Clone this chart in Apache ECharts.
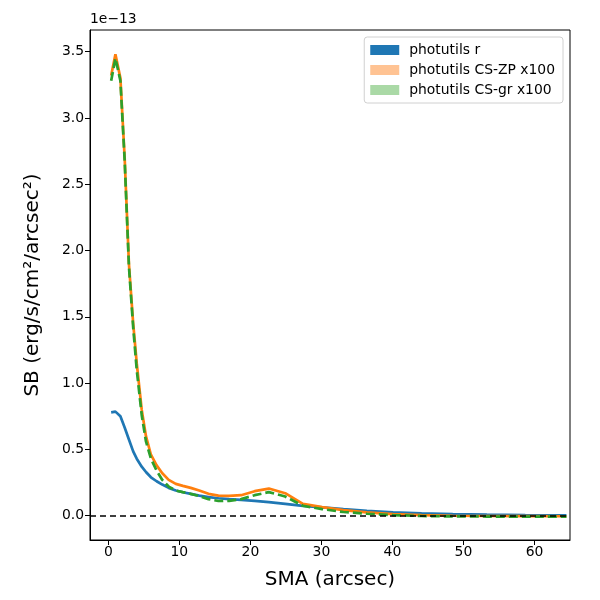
<!DOCTYPE html>
<html>
<head>
<meta charset="utf-8">
<script src="https://cdn.jsdelivr.net/npm/echarts@6/dist/echarts.min.js"></script>
<style>
  html, body { margin: 0; padding: 0; background: #fff; }
  #chart { width: 600px; height: 600px; }
</style>
</head>
<body>
<div id="chart"></div>
<script>
// semi-major axis (arcsec)
var sma = [0.4, 1.0, 1.7, 2.3, 2.9, 3.5, 4.0, 4.7, 5.3, 6.0, 6.8, 7.6, 8.5, 9.5, 10.5, 11.6, 12.8, 14.1, 15.5, 17.0,
           18.7, 20.6, 22.6, 24.9, 27.4, 30.1, 33.1, 36.4, 40.1, 44.1, 48.5, 53.3, 58.7, 64.5]

// surface brightness, units of 1e-13
var sbR = [0.78, 0.785, 0.75, 0.665, 0.575, 0.485, 0.43, 0.37, 0.33, 0.29, 0.26, 0.235, 0.21, 0.19, 0.177, 0.165, 0.152, 0.14, 0.132, 0.125,
           0.119, 0.112, 0.103, 0.09, 0.075, 0.063, 0.05, 0.037, 0.026, 0.018, 0.012, 0.008, 0.004, 0.002]
var sbZP = [3.32, 3.48, 3.30, 2.70, 1.90, 1.45, 1.15, 0.80, 0.60, 0.46, 0.38, 0.32, 0.27, 0.24, 0.225, 0.21, 0.19, 0.165, 0.152, 0.15,
            0.155, 0.185, 0.205, 0.17, 0.09, 0.065, 0.042, 0.025, 0.012, 0.004, 0.0, -0.002, -0.003, -0.004]
var sbGR = [3.28, 3.45, 3.28, 2.68, 1.88, 1.42, 1.10, 0.76, 0.56, 0.43, 0.34, 0.27, 0.22, 0.19, 0.178, 0.165, 0.148, 0.125, 0.111, 0.112,
            0.125, 0.155, 0.178, 0.145, 0.075, 0.05, 0.028, 0.015, 0.005, -0.002, -0.005, -0.006, -0.006, -0.006]

var xTicks = [0, 10, 20, 30, 40, 50, 60]
var yTicks = [0.0, 0.5, 1.0, 1.5, 2.0, 2.5, 3.0, 3.5]

var names = ['photutils r', 'photutils CS-ZP x100', 'photutils CS-gr x100']

function pairs(ys){
    return sma.map(function(x, i){ return [x, ys[i]] })
}

var chart = echarts.init(document.getElementById('chart'))
var font = 'DejaVu Sans'

var option = {
    animation: false,
    textStyle: { fontFamily: font },
    grid: {
        left: 90, right: 30, top: 30, bottom: 60,
        show: true, borderColor: '#000', borderWidth: 1
    },
    graphic: [{
        type: 'text', left: 90, top: 12,
        style: { text: '1e\u221213', fontSize: 13.9, fontFamily: font, fill: '#000' }
    }],
    legend: {
        right: 37, top: 37,
        orient: 'vertical',
        padding: [6, 8, 6, 6],
        itemGap: 6,
        itemWidth: 29, itemHeight: 10,
        icon: 'rect',
        borderColor: '#d0d0d0', borderWidth: 1, borderRadius: 3,
        backgroundColor: '#fff',
        textStyle: { fontSize: 13.9, fontFamily: font, color: '#000', padding: [0, 0, 0, 5] },
        data: [
            { name: names[0], itemStyle: { color: '#1f77b4' } },
            { name: names[1], itemStyle: { color: '#ffc393' } },
            { name: names[2], itemStyle: { color: '#aad9a6' } }
        ]
    },
    xAxis: {
        type: 'value',
        min: -2.58, max: 65,
        name: 'SMA (arcsec)',
        nameLocation: 'middle',
        nameGap: 30,
        nameTextStyle: { fontSize: 20, color: '#000', fontFamily: font },
        axisLine: { onZero: false, lineStyle: { color: '#000' } },
        axisTick: { customValues: xTicks, length: 5, lineStyle: { color: '#000' } },
        axisLabel: { customValues: xTicks, fontSize: 13.9, color: '#000', margin: 5 },
        splitLine: { show: false }
    },
    yAxis: {
        type: 'value',
        min: -0.183, max: 3.663,
        name: 'SB (erg/s/cm\u00b2/arcsec\u00b2)',
        nameLocation: 'middle',
        nameGap: 47,
        nameTextStyle: { fontSize: 20, color: '#000', fontFamily: font },
        axisLine: { show: true, onZero: false, lineStyle: { color: '#000' } },
        axisTick: { show: true, customValues: yTicks, length: 5, lineStyle: { color: '#000' } },
        axisLabel: {
            customValues: yTicks, fontSize: 13.9, color: '#000', margin: 6,
            formatter: function(v){ return v.toFixed(1) }
        },
        splitLine: { show: false }
    },
    series: [
        {
            name: names[0], type: 'line', data: pairs(sbR),
            showSymbol: false, symbol: 'none',
            lineStyle: { color: '#1f77b4', width: 2.7 },
            itemStyle: { color: '#1f77b4' },
            markLine: {
                silent: true, symbol: 'none', label: { show: false },
                lineStyle: { color: '#000', type: [6, 4], width: 1.6 },
                data: [{ yAxis: 0 }]
            },
            z: 2
        },
        {
            name: names[1], type: 'line', data: pairs(sbZP),
            showSymbol: false, symbol: 'none',
            lineStyle: { color: '#ff7f0e', width: 2.7 },
            itemStyle: { color: '#ff7f0e' },
            z: 3
        },
        {
            name: names[2], type: 'line', data: pairs(sbGR),
            showSymbol: false, symbol: 'none',
            lineStyle: { color: '#2ca02c', width: 2.7, type: [9, 4] },
            itemStyle: { color: '#2ca02c' },
            z: 4
        }
    ]
}
chart.setOption(option)
</script>
</body>
</html>
